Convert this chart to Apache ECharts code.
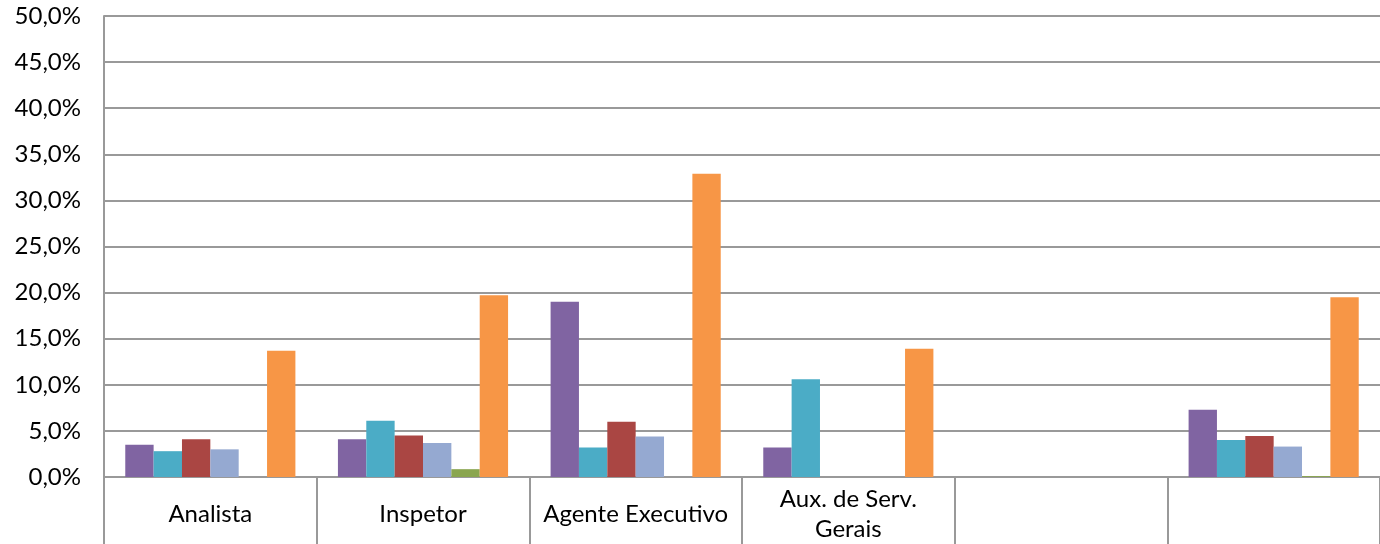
<!DOCTYPE html>
<html>
<head>
<meta charset="utf-8">
<script src="https://cdn.jsdelivr.net/npm/echarts@6/dist/echarts.min.js"></script>
<style>
  html, body { margin: 0; padding: 0; background: #fff; }
  #chart { width: 1380px; height: 544px; }
</style>
</head>
<body>
<div id="chart"></div>
<script>
// categorias
var cargos = ['Analista', 'Inspetor', 'Agente Executivo', 'Aux. de Serv.\nGerais', '', ''];

// valores em %
var serieRoxa    = [3.5, 4.1, 19.0, 3.2, 0, 7.3];
var serieCiano   = [2.8, 6.1, 3.2, 10.6, 0, 4.0];
var serieVermelha= [4.1, 4.5, 6.0, 0, 0, 4.45];
var serieAzul    = [3.0, 3.7, 4.4, 0, 0, 3.3];
var serieVerde   = [0, 0.85, 0, 0, 0, 0.1];
var serieLaranja = [13.7, 19.7, 32.9, 13.9, 0, 19.5];

var cores = ['#8064A2', '#4BACC6', '#AA4643', '#95A9D1', '#8AA64F', '#F79646'];
var todas = [serieRoxa, serieCiano, serieVermelha, serieAzul, serieVerde, serieLaranja];

var fonte = 'Lato, "Open Sans", sans-serif';

var series = todas.map(function(d, i){
	return {
		type: 'bar',
		data: d,
		barGap: '0%',
		barCategoryGap: '20%',
		itemStyle: { color: cores[i] },
		animation: false
	};
});

var option = {
	backgroundColor: '#fff',
	grid: { left: 104, right: -3, top: 16, bottom: 64 },
	xAxis: {
		type: 'category',
		data: cargos,
		axisLine: { show: true, lineStyle: { color: '#999', width: 2 } },
		axisTick: { show: true, length: 80, alignWithLabel: false, interval: 0,
			lineStyle: { color: '#999', width: 2 } },
		axisLabel: { interval: 0, margin: 37, verticalAlign: 'middle', lineHeight: 30,
			color: '#000', fontSize: 24, fontFamily: fonte }
	},
	yAxis: {
		type: 'value',
		min: 0,
		max: 50,
		interval: 5,
		axisLine: { show: true, lineStyle: { color: '#999', width: 2 } },
		axisTick: { show: false },
		splitLine: { show: true, lineStyle: { color: '#999', width: 2 } },
		axisLabel: {
			margin: 23,
			color: '#000',
			fontSize: 24,
			fontFamily: fonte,
			formatter: function(v){ return v.toFixed(1).replace('.', ',') + '%'; }
		}
	},
	series: series
};

echarts.init(document.getElementById('chart')).setOption(option);
</script>
</body>
</html>
